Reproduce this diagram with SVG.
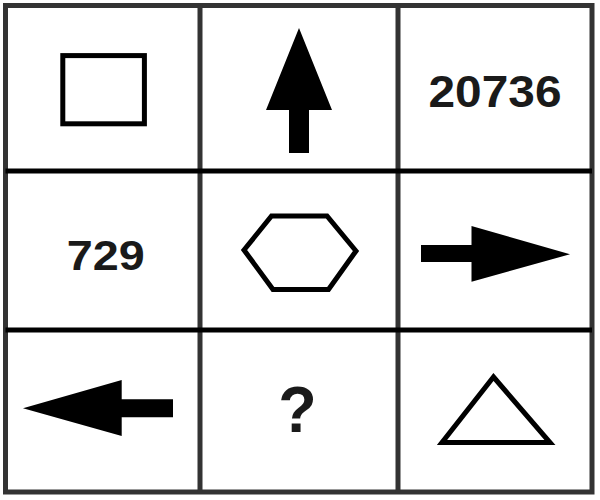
<svg xmlns="http://www.w3.org/2000/svg" width="600" height="500" viewBox="0 0 600 500">
<style>
.grid{fill:none;stroke:#333;stroke-width:5}
.hline{stroke:#000;stroke-width:5}
.vline{stroke:#333;stroke-width:5}
.outline{fill:none;stroke:#000;stroke-width:5;stroke-linejoin:miter}
.solid{fill:#000;stroke:none}
.num{font-family:"Liberation Sans",Arial,sans-serif;font-weight:bold;fill:#1a1a1a;text-anchor:middle}
</style>
<rect width="600" height="500" fill="#fff"/>
<g id="grid">
<rect class="grid" x="5.5" y="5.5" width="586.5" height="486.5"/>
<line class="vline" x1="200" y1="5.5" x2="200" y2="492"/>
<line class="vline" x1="398" y1="5.5" x2="398" y2="492"/>
<line class="hline" x1="5.5" y1="171" x2="592" y2="171"/>
<line class="hline" x1="5.5" y1="330" x2="592" y2="330"/>
</g>
<g id="cell-square">
<rect class="outline" x="62.8" y="55.6" width="81.6" height="68.2"/>
</g>
<g id="cell-up-arrow">
<polygon class="solid" points="299,28 332,110 309,110 309,153 289,153 289,110 266,110"/>
</g>
<g id="cell-20736">
<text class="num" x="495" y="106.7" font-size="44" textLength="133" lengthAdjust="spacingAndGlyphs">20736</text>
</g>
<g id="cell-729">
<text class="num" x="105.8" y="270" font-size="43" textLength="78" lengthAdjust="spacingAndGlyphs">729</text>
</g>
<g id="cell-hexagon">
<polygon class="outline" points="244,250 271.5,216 327,216 356,251 328.5,289.5 273,289.5"/>
</g>
<g id="cell-right-arrow">
<polygon class="solid" points="421,245 471.5,245 471.5,226 570,254.3 471.5,281.7 471.5,262 421,262"/>
</g>
<g id="cell-left-arrow">
<polygon class="solid" points="23,408.3 121.7,380 121.7,399.3 173,399.3 173,417.3 121.7,417.3 121.7,436"/>
</g>
<g id="cell-question">
<text class="num" x="297.5" y="431.7" font-size="65" textLength="38.4" lengthAdjust="spacingAndGlyphs">?</text>
</g>
<g id="cell-triangle">
<polygon class="outline" points="493.5,377 550,442.5 442,442.5"/>
</g>
</svg>
